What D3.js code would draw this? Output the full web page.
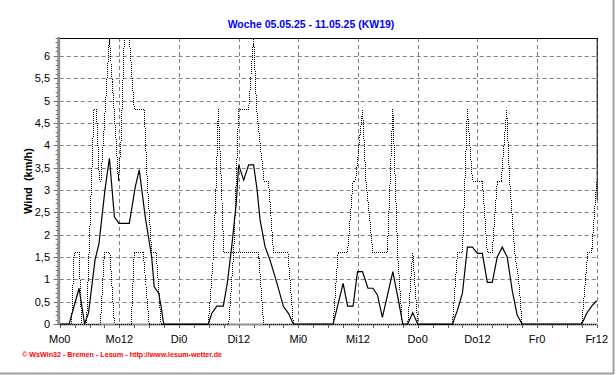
<!DOCTYPE html>
<html>
<head>
<meta charset="utf-8">
<script src="https://cdn.jsdelivr.net/npm/d3@7"></script>
<style>
  body { margin: 0; background: #fff; }
  svg { display: block; font-family: "Liberation Sans", Arial, sans-serif; }
</style>
</head>
<body>
<div id="chart"></div>
<script>
// hours since Mo 0:00, wind in km/h
const dayLabels = ["Mo0", "Mo12", "Di0", "Di12", "Mi0", "Mi12", "Do0", "Do12", "Fr0", "Fr12"];
const yTicks = [0, 0.5, 1, 1.5, 2, 2.5, 3, 3.5, 4, 4.5, 5, 5.5, 6];

// mittlere Windgeschwindigkeit (solid)
const windMean = [
  [0,0],[1.9,0],[3.9,0.8],[5,0],[5.8,0.25],[7.1,1.43],[7.9,1.8],[9.1,3.0],[10,3.71],[11,2.4],
  [11.9,2.25],[14,2.25],[15.2,3.07],[16,3.45],[17.2,2.4],[18.5,1.5],[19,0.83],[19.9,0.69],
  [20.4,0.39],[20.9,0],[29.9,0],[30.6,0.24],[31.6,0.4],[32.9,0.4],[33.7,0.91],[34.6,1.73],
  [35.5,2.7],[36,3.56],[37,3.22],[38,3.56],[39,3.56],[39.7,3.0],[40.3,2.33],[41.3,1.73],
  [42.3,1.43],[43.7,0.91],[45,0.39],[46,0.24],[47,0],[55,0],[57,0.91],[57.9,0.4],[59,0.4],
  [59.9,1.17],[60.9,1.17],[62,0.8],[63,0.8],[63.9,0.65],[64.9,0.15],[67,1.17],[68,0.6],
  [69,0],[70,0],[71,0.25],[72,0],[79,0],[80,0.31],[81,0.69],[82,1.72],[83,1.72],[84,1.58],
  [85,1.58],[86,0.93],[87,0.93],[88,1.5],[89,1.72],[90,1.5],[91,0.76],[92,0.2],[93,0],
  [105,0],[106,0.24],[107,0.4],[108,0.52]
];

// Böen (dotted, upper)
const windGust = [
  [0,0],[2.4,0],[2.9,1.6],[3.9,1.6],[4.4,0],[5.4,0],[6.9,4.8],[7.4,4.8],[8,3.2],[8.3,3.2],
  [10,6.4],[11.4,4.0],[11.8,3.2],[12.3,4.0],[13,6.4],[14,6.4],[15,4.8],[17,4.8],[17.6,3.2],
  [18.5,1.6],[19.4,1.6],[20.4,0],[29.9,0],[30.9,1.5],[31.5,3.2],[31.9,4.8],[32.5,3.2],
  [33,1.6],[35,1.6],[36,4.8],[38,4.8],[39,6.4],[39.6,4.8],[41.1,3.2],[42,3.2],[43,1.6],
  [45.9,1.6],[47,0],[55,0],[56,1.6],[57.9,1.6],[59,3.2],[59.5,3.2],[60.9,4.8],[61.6,3.2],
  [63,1.6],[65.9,1.6],[67,4.8],[68,1.5],[68.9,0],[70,0],[71,1.6],[72,0],[79,0],[80,1.6],
  [81,1.6],[82,4.8],[82.5,4.0],[83,3.2],[85,3.2],[86,1.6],[87,1.6],[88,3.2],[88.8,3.2],
  [89.9,4.8],[90.5,3.2],[91.5,1.6],[92.3,1.0],[93,0],[105,0],[106.2,1.6],[107,1.6],[108,3.2]
];

// zweite gepunktete Reihe (lower)
const windLow = [
  [0,0],[8.2,0],[9,1.6],[10.1,1.6],[11,0],[14.4,0],[15,1.6],[16.8,1.6],[18,0],
  [34,0],[35,1.6],[40,1.6],[41,0],[108,0]
];

const width = 616, height = 375;
const plotL = 59.7, plotR = 596.7, plotT = 38, plotB = 324;

const svg = d3.select("#chart").append("svg")
  .attr("width", width)
  .attr("height", height);

const x = d3.scaleLinear().domain([0, 108]).range([plotL, plotR]);
const y = d3.scaleLinear().domain([0, 6.4]).range([plotB, plotT]);

// outer frame (right/bottom)
svg.append("line").attr("x1", 0).attr("x2", 614).attr("y1", 373.5).attr("y2", 373.5)
  .attr("stroke", "#a0a0a0").attr("stroke-width", 2);
svg.append("line").attr("x1", 613.5).attr("x2", 613.5).attr("y1", 0).attr("y2", 374)
  .attr("stroke", "#a0a0a0").attr("stroke-width", 2);

// title
svg.append("text")
  .attr("x", 311).attr("y", 28)
  .attr("text-anchor", "middle")
  .attr("fill", "#0000ff")
  .attr("font-weight", "bold")
  .attr("font-size", "10.5px")
  .text("Woche 05.05.25 - 11.05.25 (KW19)");

// grid
const grid = svg.append("g");
grid.selectAll(".hg")
  .data(yTicks.filter(d => d > 0))
  .enter().append("line")
  .attr("x1", plotL).attr("x2", plotR)
  .attr("y1", d => Math.round(y(d)) + 0.5).attr("y2", d => Math.round(y(d)) + 0.5)
  .attr("stroke", "#808080").attr("stroke-dasharray", "4,3");
grid.selectAll(".vg")
  .data(d3.range(12, 109, 12))
  .enter().append("line")
  .attr("x1", d => Math.round(x(d)) + 0.5).attr("x2", d => Math.round(x(d)) + 0.5)
  .attr("y1", plotT).attr("y2", plotB)
  .attr("stroke", "#808080").attr("stroke-dasharray", "4,3");

// top / right border
svg.append("line").attr("x1", plotL).attr("x2", plotR + 0.5).attr("y1", plotT + 0.5).attr("y2", plotT + 0.5)
  .attr("stroke", "#000");
svg.append("line").attr("x1", plotR + 0.5).attr("x2", plotR + 0.5).attr("y1", plotT).attr("y2", 200)
  .attr("stroke", "#000");

// bottom axis
const xAxis = svg.append("g");
xAxis.append("line").attr("x1", plotL - 2).attr("x2", plotR + 1).attr("y1", plotB + 0.5).attr("y2", plotB + 0.5)
  .attr("stroke", "#909090").attr("stroke-width", 2);
xAxis.selectAll(".mt")
  .data(d3.range(0, 109, 3))
  .enter().append("line")
  .attr("x1", d => Math.round(x(d)) + 0.5).attr("x2", d => Math.round(x(d)) + 0.5)
  .attr("y1", plotB + 1).attr("y2", plotB + 4)
  .attr("stroke", "#606060");
xAxis.selectAll(".xl")
  .data(dayLabels)
  .enter().append("text")
  .attr("x", (d, i) => x(i * 12))
  .attr("y", 343)
  .attr("text-anchor", "middle")
  .attr("font-size", "11px")
  .attr("fill", "#000")
  .text(d => d);

// left axis
const yAxis = svg.append("g");
yAxis.append("line").attr("x1", plotL - 1).attr("x2", plotL - 1).attr("y1", plotT - 1).attr("y2", plotB + 1)
  .attr("stroke", "#909090").attr("stroke-width", 3);
yAxis.selectAll(".ym")
  .data(d3.range(0, 65).map(d => d / 10))
  .enter().append("line")
  .attr("x1", plotL - 4).attr("x2", plotL - 2)
  .attr("y1", d => Math.round(y(d)) + 0.5).attr("y2", d => Math.round(y(d)) + 0.5)
  .attr("stroke", "#707070");
yAxis.selectAll(".yt")
  .data(yTicks)
  .enter().append("line")
  .attr("x1", plotL - 6).attr("x2", plotL - 2)
  .attr("y1", d => Math.round(y(d)) + 0.5).attr("y2", d => Math.round(y(d)) + 0.5)
  .attr("stroke", "#707070");
yAxis.selectAll(".yl")
  .data(yTicks)
  .enter().append("text")
  .attr("x", 50)
  .attr("y", d => y(d) + 4)
  .attr("text-anchor", "end")
  .attr("font-size", "11px")
  .attr("fill", "#000")
  .text(d => String(d).replace(".", ","));

svg.append("text")
  .attr("transform", "translate(32,181) rotate(-90)")
  .attr("text-anchor", "middle")
  .attr("font-weight", "bold")
  .attr("font-size", "11px")
  .style("white-space", "pre")
  .text("Wind  (km/h)");

// series
svg.append("clipPath").attr("id", "plot")
  .append("rect").attr("x", plotL).attr("y", plotT).attr("width", plotR - plotL + 1).attr("height", plotB - plotT + 1);

const line = d3.line().x(d => x(d[0])).y(d => y(d[1]));
const plot = svg.append("g").attr("clip-path", "url(#plot)");

plot.append("path").datum(windLow)
  .attr("d", line).attr("fill", "none")
  .attr("stroke", "#000").attr("stroke-width", 1).attr("stroke-dasharray", "1,1")
  .attr("shape-rendering", "crispEdges");
plot.append("path").datum(windGust)
  .attr("d", line).attr("fill", "none")
  .attr("stroke", "#000").attr("stroke-width", 1).attr("stroke-dasharray", "1,1")
  .attr("shape-rendering", "crispEdges");
plot.append("path").datum(windMean)
  .attr("d", line).attr("fill", "none")
  .attr("stroke", "#000").attr("stroke-width", 1.2);

// footer
svg.append("text")
  .attr("x", 22).attr("y", 357)
  .attr("fill", "#ff0000")
  .attr("font-weight", "bold")
  .attr("font-size", "7px")
  .attr("textLength", 200)
  .attr("lengthAdjust", "spacingAndGlyphs")
  .text("\u00a9 WsWin32 - Bremen - Lesum - http://www.lesum-wetter.de");
</script>
</body>
</html>
